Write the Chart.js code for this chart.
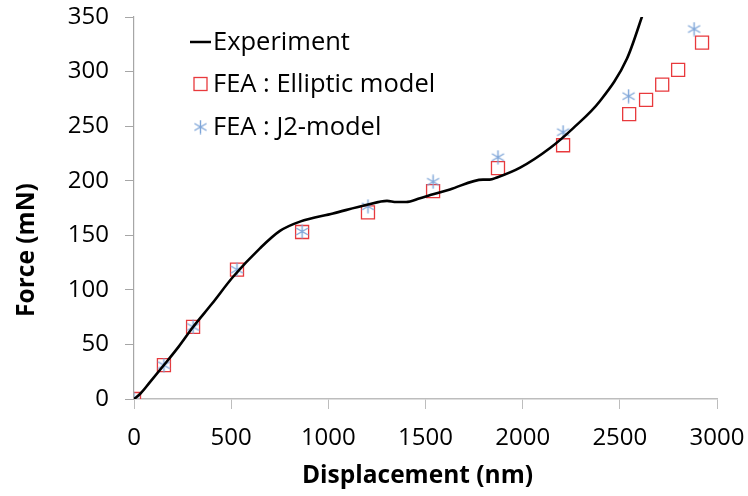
<!DOCTYPE html>
<html>
<head>
<meta charset="utf-8">
<script src="https://cdn.jsdelivr.net/npm/chart.js@4.4.1/dist/chart.umd.min.js"></script>
<style>
    html, body { margin: 0; padding: 0; background: #fff; }
    #wrap { width: 748px; height: 496px; }
</style>
</head>
<body>
<div id="wrap"><canvas id="forceChart"></canvas></div>
<script>
// experiment curve (nm, mN)
const expX = [0, 31, 80, 149, 230, 304, 400, 510, 648, 751, 854, 1024, 1199, 1302, 1350, 1400, 1472, 1539, 1626, 1796, 1830, 1868, 1987, 2141, 2259, 2398, 2537, 2625];
const expY = [0, 4.6, 15, 30, 48, 66, 87, 112, 138, 154, 162.5, 170, 178, 181.5, 180.5, 180.5, 184, 187.5, 192, 201, 201, 203, 212, 230, 248, 273, 312, 356];

// FEA : Elliptic model
const ellX = [0, 154, 304, 530, 865, 1204, 1539, 1873, 2208, 2548, 2635, 2718, 2800, 2923];
const ellY = [0, 31, 66, 118.5, 153, 171, 190.5, 211.5, 232.5, 261, 274, 288, 301.5, 326.5];

// FEA : J2-model
const j2X = [0, 154, 304, 530, 865, 1204, 1539, 1873, 2208, 2545, 2882];
const j2Y = [0, 31, 66, 118.5, 153.5, 176.5, 199, 221.5, 244.5, 277.5, 339];

const xTicks = [0, 500, 1000, 1500, 2000, 2500, 3000];
const yTicks = [0, 50, 100, 150, 200, 250, 300, 350];

const toPoints = (xs, ys) => xs.map((x, i) => ({ x: x, y: ys[i] }));

const RED = '#e8393c';
const BLUE = '#7ea5d8';
const AXIS = '#a6a6a6';
const FONT = 'Open Sans';

// asterisk marker like the spreadsheet one
function makeStar(size, color) {
    const c = document.createElement('canvas');
    c.width = size; c.height = size;
    const g = c.getContext('2d');
    const r = size / 2 - 0.5;
    g.strokeStyle = color;
    g.lineWidth = 1.4;
    g.beginPath();
    [90, 30, 150].forEach(function (a) {
        const rad = a * Math.PI / 180;
        g.moveTo(size / 2 - r * Math.cos(rad), size / 2 - r * Math.sin(rad));
        g.lineTo(size / 2 + r * Math.cos(rad), size / 2 + r * Math.sin(rad));
    });
    g.stroke();
    return c;
}
const starImg = makeStar(15, BLUE);

const titlesAndLegend = {
    id: 'titlesAndLegend',
    afterDraw(chart) {
        const ctx = chart.ctx;
        const area = chart.chartArea;
        ctx.save();
        ctx.fillStyle = '#000';
        ctx.textBaseline = 'middle';

        // axis titles
        ctx.font = 'bold 24.5px "' + FONT + '"';
        ctx.textAlign = 'center';
        ctx.fillText('Displacement (nm)', (area.left + area.right) / 2 - 8, 476);
        ctx.save();
        ctx.translate(27, 250);
        ctx.rotate(-Math.PI / 2);
        ctx.fillText('Force (mN)', 0, 0);
        ctx.restore();

        // legend
        const lx = area.left + 56;
        const rows = [42, 84, 127];
        ctx.font = '25.5px "' + FONT + '"';
        ctx.textAlign = 'left';
        ctx.fillText('Experiment', lx + 23, rows[0] + 1);
        ctx.fillText('FEA : Elliptic model', lx + 23, rows[1] + 1);
        ctx.fillText('FEA : J2-model', lx + 23, rows[2] + 1);

        ctx.strokeStyle = '#000';
        ctx.lineWidth = 2.5;
        ctx.beginPath();
        ctx.moveTo(lx, rows[0]);
        ctx.lineTo(lx + 21, rows[0]);
        ctx.stroke();

        ctx.strokeStyle = RED;
        ctx.lineWidth = 1.3;
        ctx.strokeRect(lx + 4, rows[1] - 6.5, 13, 13);

        ctx.drawImage(starImg, lx + 3, rows[2] - 7.5);
        ctx.restore();
    }
};

new Chart(document.getElementById('forceChart').getContext('2d'), {
    type: 'scatter',
    data: {
        datasets: [
            {
                label: 'Experiment',
                data: toPoints(expX, expY),
                showLine: true,
                borderColor: '#000',
                borderWidth: 2.6,
                pointRadius: 0,
                cubicInterpolationMode: 'monotone',
                order: 0
            },
            {
                label: 'FEA : J2-model',
                data: toPoints(j2X, j2Y),
                pointStyle: starImg,
                borderColor: BLUE,
                backgroundColor: BLUE,
                order: 1
            },
            {
                label: 'FEA : Elliptic model',
                data: toPoints(ellX, ellY),
                pointStyle: 'rect',
                pointRadius: 9.2,
                borderColor: RED,
                borderWidth: 1.3,
                backgroundColor: 'rgba(0,0,0,0)',
                order: 2
            }
        ]
    },
    options: {
        responsive: true,
        maintainAspectRatio: false,
        animation: false,
        events: [],
        layout: { padding: 0 },
        scales: {
            x: {
                type: 'linear',
                min: 0,
                max: 3000,
                afterBuildTicks: (scale) => { scale.ticks = xTicks.map(v => ({ value: v })); },
                afterFit: (scale) => {
                    scale.height = 97;
                    scale.paddingLeft = 0;
                    scale.paddingRight = 31;
                },
                grid: { drawOnChartArea: false, drawTicks: true, tickLength: 10, color: '#bdbdbd' },
                border: { color: '#bdbdbd', width: 1.5 },
                ticks: { color: '#000', padding: 15, font: { size: 24, family: FONT }, callback: (v) => String(v) }
            },
            y: {
                type: 'linear',
                min: 0,
                max: 350,
                afterBuildTicks: (scale) => { scale.ticks = yTicks.map(v => ({ value: v })); },
                afterFit: (scale) => {
                    scale.width = 134;
                    scale.paddingTop = 17;
                    scale.paddingBottom = 0;
                },
                grid: { drawOnChartArea: false, drawTicks: true, tickLength: 9, color: AXIS },
                border: { color: AXIS, width: 1.2 },
                ticks: { color: '#000', padding: 16, font: { size: 24, family: FONT }, callback: (v) => String(v) }
            }
        },
        plugins: {
            legend: { display: false },
            tooltip: { enabled: false }
        }
    },
    plugins: [titlesAndLegend]
});
</script>
</body>
</html>
